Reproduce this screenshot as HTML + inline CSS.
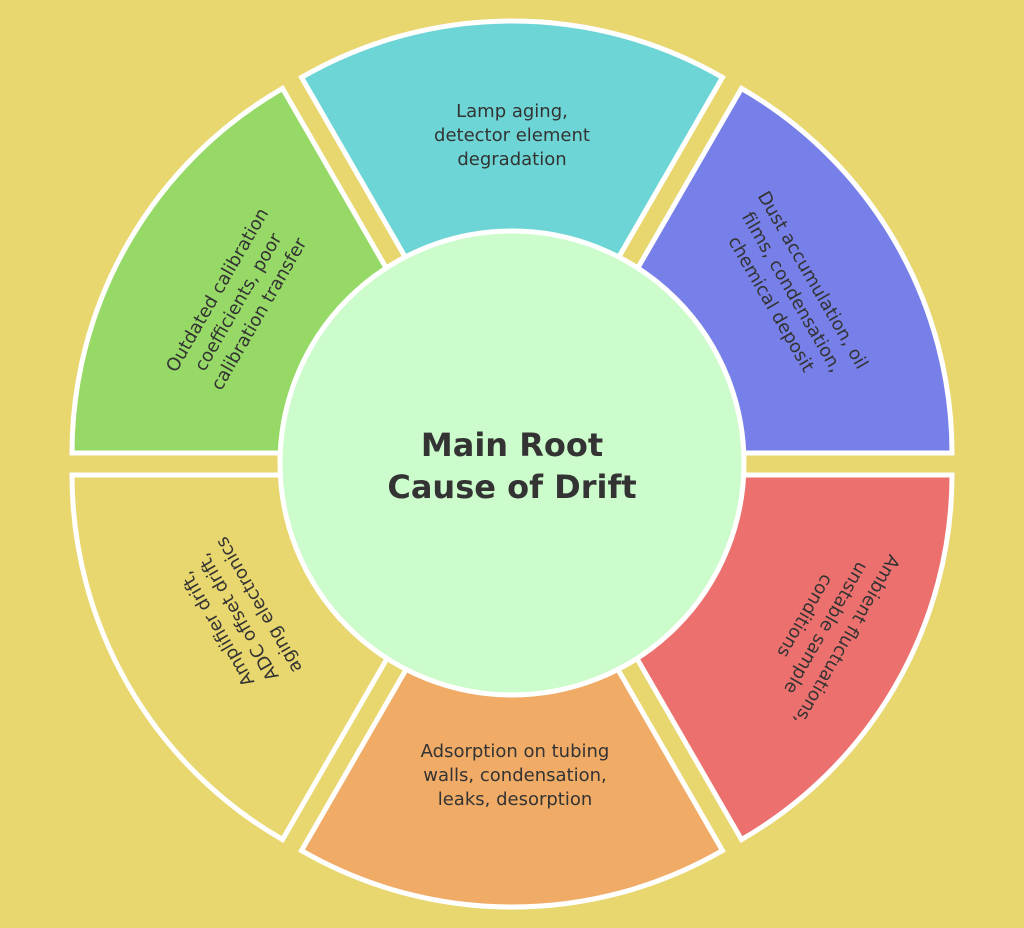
<!DOCTYPE html>
<html><head><meta charset="utf-8"><style>
html,body{margin:0;padding:0;background:#e8d66e;}
svg{display:block;}
text{font-family:"DejaVu Sans","Liberation Sans",sans-serif;fill:#333;}
</style></head><body>
<svg width="1024" height="928" viewBox="0 0 1024 928" xmlns="http://www.w3.org/2000/svg">
<rect width="1024" height="928" fill="#e8d66e"/>
<g stroke="#fff" stroke-width="5" stroke-linejoin="miter">
<path transform="translate(0,-22)" d="M512,464 L301.5,99.4 A421,421 0 0 1 722.5,99.4 Z" fill="#6dd5d5"/>
<path transform="translate(19,-11)" d="M512,464 L722.5,99.4 A421,421 0 0 1 933,464 Z" fill="#7780e8"/>
<path transform="translate(19,11)" d="M512,464 L933,464 A421,421 0 0 1 722.5,828.6 Z" fill="#ec706e"/>
<path transform="translate(0,22)" d="M512,464 L722.5,828.6 A421,421 0 0 1 301.5,828.6 Z" fill="#f0ac67"/>
<path transform="translate(-19,11)" d="M512,464 L301.5,828.6 A421,421 0 0 1 91,464 Z" fill="#e8d66e"/>
<path transform="translate(-19,-11)" d="M512,464 L91,464 A421,421 0 0 1 301.5,99.4 Z" fill="#96d966"/>
</g>
<circle cx="512" cy="463" r="232" fill="#ccfccb" stroke="#fff" stroke-width="5"/>
<text x="512" y="456" font-size="32" font-weight="bold" text-anchor="middle">Main Root</text>
<text x="512" y="498" font-size="32" font-weight="bold" text-anchor="middle">Cause of Drift</text>
<g font-size="18" text-anchor="middle">
<text x="512" y="117">Lamp aging,</text>
<text x="512" y="141">detector element</text>
<text x="512" y="165">degradation</text>
<g transform="translate(515,775)">
<text y="-18">Adsorption on tubing</text>
<text y="6">walls, condensation,</text>
<text y="30">leaks, desorption</text>
</g>
<g transform="translate(238,302) rotate(-60)">
<text y="-18">Outdated calibration</text>
<text y="6">coefficients, poor</text>
<text y="30">calibration transfer</text>
</g>
<g transform="translate(792,292) rotate(60)">
<text y="-18">Dust accumulation, oil</text>
<text y="6">films, condensation,</text>
<text y="30">chemical deposit</text>
</g>
<g transform="translate(826,628) rotate(120)">
<text y="-18">Ambient fluctuations,</text>
<text y="6">unstable sample</text>
<text y="30">conditions</text>
</g>
<g transform="translate(238,617) rotate(-120)">
<text y="-18">Amplifier drift,</text>
<text y="6">ADC offset drift,</text>
<text y="30">aging electronics</text>
</g>
</g>
</svg>
</body></html>
